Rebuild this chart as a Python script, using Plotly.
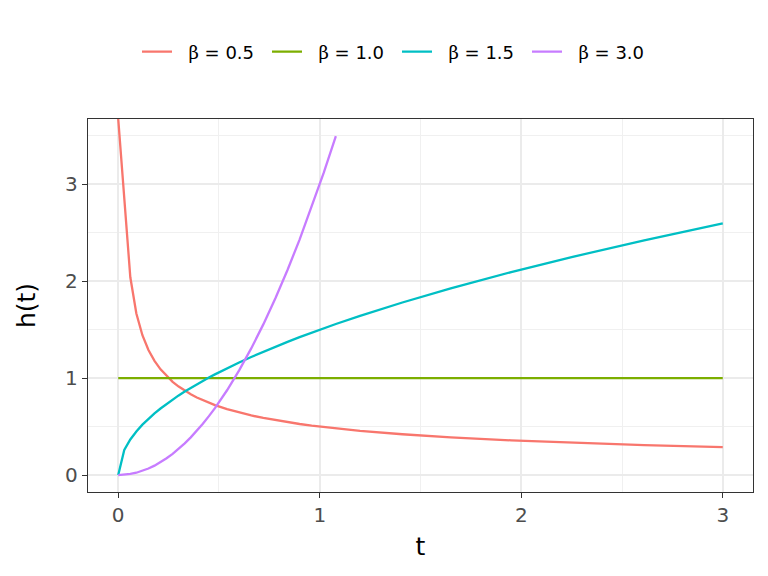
import plotly.graph_objects as go

# time points
t = [0, 0.03, 0.06, 0.09, 0.12, 0.15, 0.18, 0.21, 0.24, 0.27, 0.30, 0.33, 0.36,
     0.39, 0.42, 0.45, 0.48, 0.54, 0.60, 0.66, 0.72, 0.78, 0.84, 0.90, 0.96, 1.02,
     1.08, 1.20, 1.41, 1.65, 1.95, 2.25, 2.61, 3.00]

# hazard values (first beta=0.5 point is infinite, drawn at the panel top edge)
h_b05 = [3.675, 2.887, 2.041, 1.667, 1.443, 1.291, 1.179, 1.091, 1.021, 0.962, 0.913,
         0.870, 0.833, 0.801, 0.772, 0.745, 0.722, 0.680, 0.645, 0.615, 0.589, 0.566,
         0.546, 0.527, 0.510, 0.495, 0.481, 0.456, 0.421, 0.389, 0.358, 0.333, 0.309,
         0.289]
h_b10 = [1.0] * 34
h_b15 = [0.0, 0.260, 0.367, 0.450, 0.520, 0.581, 0.636, 0.687, 0.735, 0.779, 0.822,
         0.862, 0.900, 0.937, 0.972, 1.006, 1.039, 1.102, 1.162, 1.219, 1.273, 1.325,
         1.375, 1.423, 1.470, 1.515, 1.559, 1.643, 1.781, 1.927, 2.095, 2.250, 2.423,
         2.598]
h_b30 = [0.0, 0.003, 0.011, 0.024, 0.043, 0.068, 0.097, 0.132, 0.173, 0.219, 0.270,
         0.327, 0.389, 0.456, 0.529, 0.608, 0.691, 0.875, 1.080, 1.307, 1.555, 1.825,
         2.117, 2.430, 2.765, 3.121, 3.499, None, None, None, None, None, None, None]

labels = ["0.5", "1.0", "1.5", "3.0"]
series = [h_b05, h_b10, h_b15, h_b30]
colors = ["#F8766D", "#7CAE00", "#00BFC4", "#C77CFF"]

x_ticks = [0, 1, 2, 3]
y_ticks = [0, 1, 2, 3]

FONT = "DejaVu Sans, Liberation Sans, Arial"
NB = "\u00a0"

fig = go.Figure()
for lab, ys, col in zip(labels, series, colors):
    fig.add_trace(go.Scatter(
        x=t, y=ys, mode="lines", connectgaps=False,
        line=dict(color=col, width=2.3),
        name=NB * 2 + "<span style=\"font-family:'DejaVu Serif'\">β</span>" + NB + "=" + NB + lab,
    ))

axis_common = dict(
    automargin=False,
    showline=True, mirror=True, linecolor="#333333", linewidth=1.3,
    ticks="outside", ticklen=5, tickwidth=1.4, tickcolor="#333333",
    gridcolor="#EBEBEB", gridwidth=1.6, zeroline=False,
    tickfont=dict(size=20, color="#4D4D4D", family=FONT),
    minor=dict(showgrid=True, gridcolor="#F0F0F0", gridwidth=1, ticks=""),
)

# page body has an 8px margin, so the figure is 760x568 placed at (8, 8)
W, H = 760, 568
fig.update_layout(
    width=W, height=H,
    paper_bgcolor="white", plot_bgcolor="white",
    margin=dict(l=80, r=15, t=111, b=84),
    font=dict(family=FONT, color="black"),
    showlegend=True,
    legend=dict(
        orientation="h", xref="container", yref="container",
        x=129 / W, xanchor="left", y=1 - 44 / H, yanchor="middle",
        font=dict(size=18, color="black", family=FONT),
        entrywidth=85, entrywidthmode="pixels",
        bgcolor="rgba(0,0,0,0)",
    ),
    xaxis=dict(
        range=[-0.15, 3.15], tickvals=x_ticks, ticktext=[str(v) for v in x_ticks],
        title=dict(text="t", font=dict(size=25, color="black", family=FONT), standoff=11),
        **axis_common,
    ),
    yaxis=dict(
        range=[-0.175, 3.675], tickvals=y_ticks, ticktext=[str(v) for v in y_ticks],
        title=dict(text="h(t)", font=dict(size=25, color="black", family=FONT), standoff=22),
        **axis_common,
    ),
)
fig.update_xaxes(minor=dict(tickvals=[0.5, 1.5, 2.5]))
fig.update_yaxes(minor=dict(tickvals=[0.5, 1.5, 2.5, 3.5]))

fig.write_html("out.html")
